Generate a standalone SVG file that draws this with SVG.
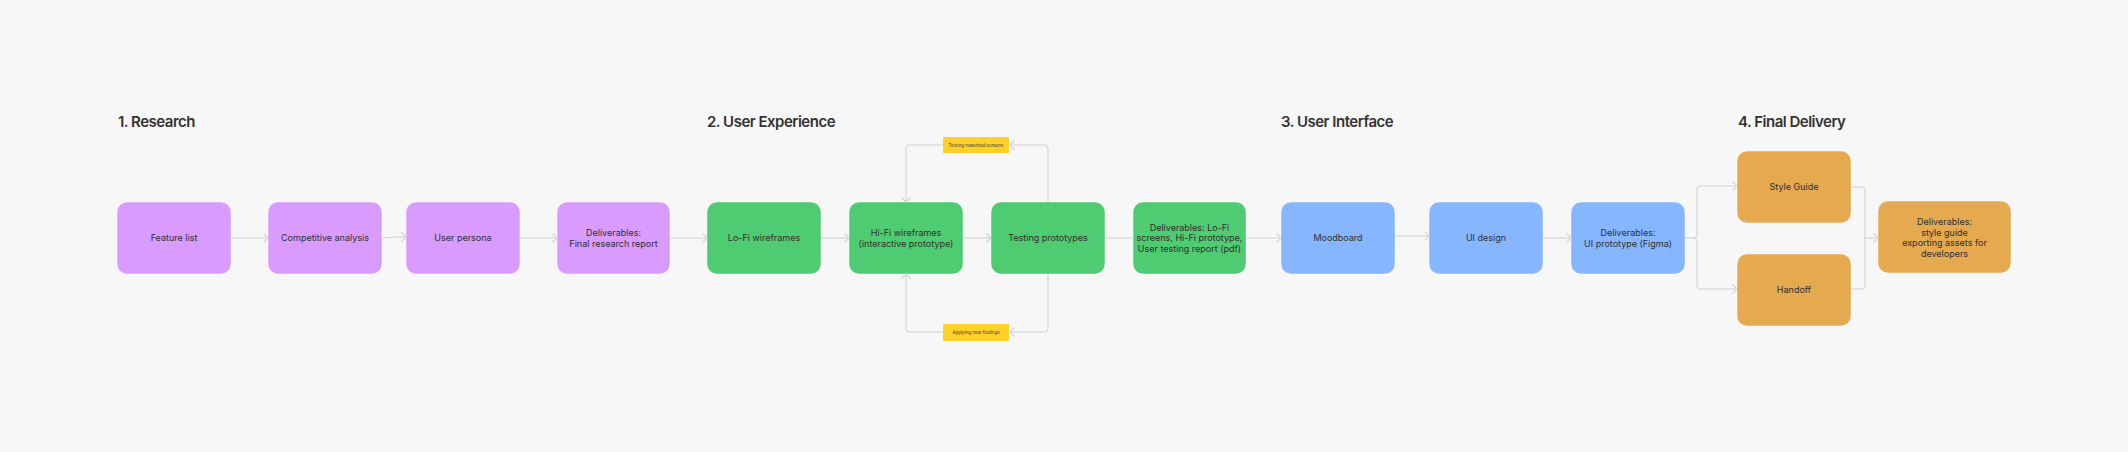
<svg xmlns="http://www.w3.org/2000/svg" width="2128" height="452" viewBox="0 0 2128 452">
<defs>
<style>
.bg{fill:#f7f7f7}
.title{font-family:Inter,"Liberation Sans",sans-serif;font-size:15px;font-weight:600;fill:#333333;letter-spacing:-0.5px}
.box{stroke:#ffffff;stroke-opacity:0.45;stroke-width:1}
.purple{fill:#d99bfe}
.green{fill:#4fcb71}
.blue{fill:#86b6ff}
.orange{fill:#e5a950}
.sticky{fill:#ffd02a}
.lbl{font-family:Inter,"Liberation Sans",sans-serif;font-size:9px;fill:#2f2f2f;text-anchor:middle}
.slbl{font-family:Inter,"Liberation Sans",sans-serif;font-size:4.5px;fill:#3a3a3a;text-anchor:middle}
.conn{fill:none;stroke:#d2d2d2;stroke-width:1.1}
</style>
<marker id="arr" markerUnits="userSpaceOnUse" markerWidth="10" markerHeight="10" viewBox="-6 -5 7 10" refX="0" refY="0" orient="auto">
<path d="M-4.5,-4.5 L0,0 L-4.5,4.5" fill="none" stroke="#d2d2d2" stroke-width="1.1"/>
</marker>
</defs>
<rect class="bg" x="0" y="0" width="2128" height="452"/>

<g id="titles">
<text class="title" x="118" y="127">1. Research</text>
<text class="title" x="707" y="127">2. User Experience</text>
<text class="title" x="1281" y="127">3. User Interface</text>
<text class="title" x="1738" y="127">4. Final Delivery</text>
</g>

<g id="connectors">
<path class="conn" d="M231,238 H268" marker-end="url(#arr)"/>
<path class="conn" d="M382,238 L406,236.5" marker-end="url(#arr)"/>
<path class="conn" d="M520,238 H557" marker-end="url(#arr)"/>
<path class="conn" d="M670,238 H707" marker-end="url(#arr)"/>
<path class="conn" d="M821,238 H849" marker-end="url(#arr)"/>
<path class="conn" d="M963,238 H991" marker-end="url(#arr)"/>
<path class="conn" d="M1105,238 H1133"/>
<path class="conn" d="M1246,238 H1281" marker-end="url(#arr)"/>
<path class="conn" d="M1387,236 H1429" marker-end="url(#arr)"/>
<path class="conn" d="M1543,238 H1571" marker-end="url(#arr)"/>
<path class="conn" d="M1048,202 V149 Q1048,145 1044,145 H1010" marker-end="url(#arr)"/>
<path class="conn" d="M943,145 H910 Q906,145 906,149 V202" marker-end="url(#arr)"/>
<path class="conn" d="M1048,274 V328 Q1048,332 1044,332 H1010" marker-end="url(#arr)"/>
<path class="conn" d="M943,332 H910 Q906,332 906,328 V274" marker-end="url(#arr)"/>
<path class="conn" d="M1685,238 H1693 Q1697,238 1697,234 V190 Q1697,186 1701,186 H1737" marker-end="url(#arr)"/>
<path class="conn" d="M1693,238 Q1697,238 1697,242 V285 Q1697,289 1701,289 H1737" marker-end="url(#arr)"/>
<path class="conn" d="M1851,187 H1861 Q1865,187 1865,191 V285 Q1865,289 1861,289 H1851"/>
<path class="conn" d="M1865,238 H1878" marker-end="url(#arr)"/>
</g>

<g id="feature-list">
<rect class="box purple" x="117" y="202" width="114" height="72" rx="10"/>
<text class="lbl" x="174" y="241">Feature list</text>
</g>
<g id="competitive-analysis">
<rect class="box purple" x="268" y="202" width="114" height="72" rx="10"/>
<text class="lbl" x="325" y="241">Competitive analysis</text>
</g>
<g id="user-persona">
<rect class="box purple" x="406" y="202" width="114" height="72" rx="10"/>
<text class="lbl" x="463" y="241">User persona</text>
</g>
<g id="deliverables-research">
<rect class="box purple" x="557" y="202" width="113" height="72" rx="10"/>
<text class="lbl" x="613.5" y="236">Deliverables:</text>
<text class="lbl" x="613.5" y="246.7">Final research report</text>
</g>

<g id="lofi-wireframes">
<rect class="box green" x="707" y="202" width="114" height="72" rx="10"/>
<text class="lbl" x="764" y="241">Lo-Fi wireframes</text>
</g>
<g id="hifi-wireframes">
<rect class="box green" x="849" y="202" width="114" height="72" rx="10"/>
<text class="lbl" x="906" y="236">Hi-Fi wireframes</text>
<text class="lbl" x="906" y="246.7">(interactive prototype)</text>
</g>
<g id="testing-prototypes">
<rect class="box green" x="991" y="202" width="114" height="72" rx="10"/>
<text class="lbl" x="1048" y="241">Testing prototypes</text>
</g>
<g id="deliverables-ux">
<rect class="box green" x="1133" y="202" width="113" height="72" rx="10"/>
<text class="lbl" x="1189.5" y="230.5">Deliverables: Lo-Fi</text>
<text class="lbl" x="1189.5" y="241.2">screens, Hi-Fi prototype,</text>
<text class="lbl" x="1189.5" y="251.9">User testing report (pdf)</text>
</g>
<g id="note-reworked">
<rect class="sticky" x="943" y="137" width="66" height="16"/>
<text class="slbl" x="976" y="146.6">Testing reworked screens</text>
</g>
<g id="note-findings">
<rect class="sticky" x="943" y="324" width="66" height="17"/>
<text class="slbl" x="976" y="334">Applying new findings</text>
</g>

<g id="moodboard">
<rect class="box blue" x="1281" y="202" width="114" height="72" rx="10"/>
<text class="lbl" x="1338" y="241">Moodboard</text>
</g>
<g id="ui-design">
<rect class="box blue" x="1429" y="202" width="114" height="72" rx="10"/>
<text class="lbl" x="1486" y="241">UI design</text>
</g>
<g id="deliverables-ui">
<rect class="box blue" x="1571" y="202" width="114" height="72" rx="10"/>
<text class="lbl" x="1628" y="236">Deliverables:</text>
<text class="lbl" x="1628" y="246.7">UI prototype (Figma)</text>
</g>

<g id="style-guide">
<rect class="box orange" x="1737" y="151" width="114" height="72" rx="10"/>
<text class="lbl" x="1794" y="190">Style Guide</text>
</g>
<g id="handoff">
<rect class="box orange" x="1737" y="254" width="114" height="72" rx="10"/>
<text class="lbl" x="1794" y="293">Handoff</text>
</g>
<g id="deliverables-final">
<rect class="box orange" x="1878" y="201" width="133" height="72" rx="10"/>
<text class="lbl" x="1944.5" y="225">Deliverables:</text>
<text class="lbl" x="1944.5" y="235.7">style guide</text>
<text class="lbl" x="1944.5" y="246.4">exporting assets for</text>
<text class="lbl" x="1944.5" y="257.1">developers</text>
</g>
</svg>
